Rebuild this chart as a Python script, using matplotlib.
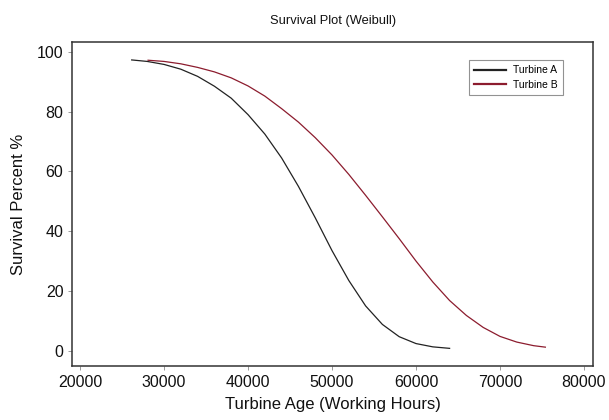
import matplotlib
matplotlib.use('Agg')
import matplotlib.pyplot as plt

plt.rcParams['font.family'] = ['Liberation Sans', 'DejaVu Sans']

# survival curves (hours, percent)
hours_a = [26150, 28000, 30000, 32000, 34000, 36000, 38000, 40000, 42000, 44000,
           46000, 48000, 50000, 52000, 54000, 56000, 58000, 60000, 62000, 64000]
surv_a = [97.3, 96.8, 95.8, 94.2, 91.8, 88.5, 84.5, 79.0, 72.5, 64.5,
          55.0, 44.5, 33.5, 23.5, 15.0, 8.8, 4.7, 2.4, 1.3, 0.8]

hours_b = [28100, 30000, 32000, 34000, 36000, 38000, 40000, 42000, 44000, 46000,
           48000, 50000, 52000, 54000, 56000, 58000, 60000, 62000, 64000, 66000,
           68000, 70000, 72000, 74000, 75400]
surv_b = [97.2, 96.8, 96.0, 94.8, 93.3, 91.3, 88.6, 85.2, 81.0, 76.5,
          71.3, 65.5, 59.0, 52.0, 44.8, 37.5, 30.0, 23.0, 16.8, 11.8,
          7.8, 4.8, 2.9, 1.7, 1.2]

labels = ['Turbine A', 'Turbine B']
colors = ['#222222', '#8c1c2e']
xticks = [20000, 30000, 40000, 50000, 60000, 70000, 80000]
yticks = [0, 20, 40, 60, 80, 100]

fig = plt.figure(figsize=(6.09, 4.20), dpi=100)
ax = fig.add_axes([0.119, 0.1286, 0.8547, 0.7714])

ax.plot(hours_a, surv_a, color=colors[0], lw=0.9, label=labels[0])
ax.plot(hours_b, surv_b, color=colors[1], lw=0.9, label=labels[1])

ax.set_xlim(19100, 81070)
ax.set_ylim(-5.1, 103.3)
ax.set_xticks(xticks)
ax.set_yticks(yticks)
ax.tick_params(axis='both', direction='out', length=3, width=0.6, color='#888888',
               labelsize=11.5, pad=3.5, labelcolor='#111111')

for s in ax.spines.values():
    s.set_color('#333333')
    s.set_linewidth(1.1)

ax.set_title('Survival Plot (Weibull)', fontsize=9.3, pad=13, color='#111111')
ax.set_xlabel('Turbine Age (Working Hours)', fontsize=12, labelpad=5, color='#111111')
ax.set_ylabel('Survival Percent %', fontsize=12, labelpad=8, color='#111111')

leg = ax.legend(loc='upper left', bbox_to_anchor=(469/609, 1-60/420),
                bbox_transform=fig.transFigure, fontsize=7.5, frameon=True,
                fancybox=False, handlelength=3.1, handletextpad=0.6,
                borderpad=0.5, labelspacing=0.45, borderaxespad=0)
leg.get_frame().set_edgecolor('#777777')
leg.get_frame().set_linewidth(0.8)
for line in leg.get_lines():
    line.set_linewidth(1.6)

fig.savefig('out.png', dpi=100)
